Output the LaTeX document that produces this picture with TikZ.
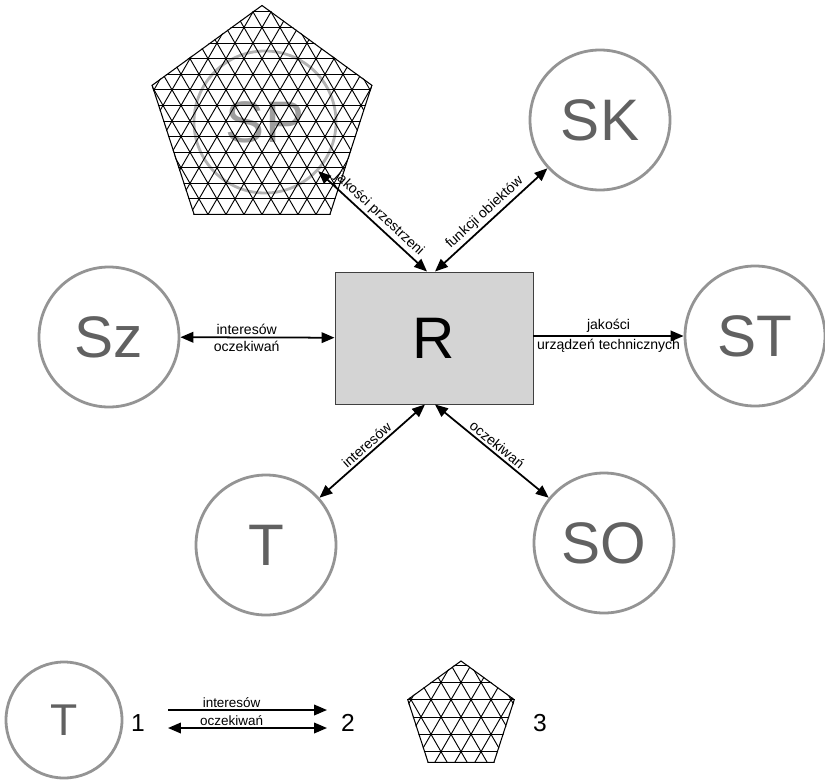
\documentclass[tikz,border=0pt]{standalone}
\usepackage{fontspec}
\setmainfont{Liberation Sans}
\usetikzlibrary{shapes.geometric, arrows.meta, calc}

\begin{document}
\begin{tikzpicture}[x=0.03cm, y=-0.03cm,
        circ/.style={circle, draw=black!42, line width=2.4pt, minimum size=4.2cm, inner sep=0pt, text=black!62, font=\fontsize{50}{50}\selectfont},
        lbl/.style={font=\fontsize{12}{14}\selectfont, inner sep=2pt},
        conn/.style={line width=1.5pt, >={Triangle[length=11pt, width=9pt]}},
        pentagon/.style={regular polygon, regular polygon sides=5, draw, line width=0.9pt, inner sep=0pt},
        dig/.style={font=\fontsize{21}{21}\selectfont}]
        \useasboundingbox (0,0) rectangle (825,780);

        \node[draw=black!75, fill=black!17, line width=0.8pt, minimum width=5.94cm, minimum height=3.96cm, inner sep=0pt, font=\fontsize{50}{50}\selectfont] (r) at (434,338) {R};
        \node[circ] (sz) at (109,337) {Sz};
        \node[circ] (st) at (755,336) {ST};
        \node[circ] (sk) at (600,120) {SK};
        \node[circ] (t) at (266,545) {T};
        \node[circ] (so) at (604,543) {SO};

        \node[pentagon, minimum size=6.93cm] (pent) at (262,121) {};
        \node[circ, draw=black!30, text=black!38, minimum size=4.26cm] (sp) at (265,122) {SP};

        \node[circ, minimum size=3.48cm, font=\fontsize{38}{38}\selectfont] (legt) at (64,720) {T};
        \node[dig] (one) at (138,723) {1};
        \node[dig] (two) at (348,723) {2};
        \node[pentagon, minimum size=3.36cm] (legp) at (461,717) {};
        \node[dig] (three) at (540,723) {3};

        % siatka w pieciokatach
        \foreach \pg/\ed in {pent/18, legp/20} {
            \begin{scope}
                \clip (\pg.corner 1) -- (\pg.corner 2) -- (\pg.corner 3) -- (\pg.corner 4) -- (\pg.corner 5) -- cycle;
                \foreach \k in {-11,...,11} {
                    \draw[line width=0.8pt] ($(\pg.center)+(-140,\k*\ed*0.866)$) -- ++(280,0);
                    \draw[line width=0.8pt] ($(\pg.center)+(\k*\ed,0)$) ++(-70,-121.24) -- ++(140,242.48);
                    \draw[line width=0.8pt] ($(\pg.center)+(\k*\ed,0)$) ++(-70,121.24) -- ++(140,-242.48);
                }
            \end{scope}
        }

        \draw[conn, <->] (sz) -- node[lbl, above, pos=0.43] {interesów} node[lbl, below, pos=0.43] {oczekiwań} (r);
        \draw[conn, ->] (r.east |- st) -- node[lbl, above] {jakości} node[lbl, below] {urządzeń technicznych} (st);
        \draw[conn, <->] (sp) -- node[lbl, above, sloped] {jakości przestrzeni} ($(r.north)+(-7,0)$);
        \draw[conn, <->] ($(r.north)+(1,0)$) -- node[lbl, above, sloped] {funkcji obiektów} (sk);
        \draw[conn, <->] (t) -- node[lbl, above, sloped] {interesów} ($(r.south)+(-9,0)$);
        \draw[conn, <->] ($(r.south)+(1,0)$) -- node[lbl, above, sloped] {oczekiwań} (so);

        \coordinate (la) at (168,710);
        \coordinate (lb) at (327,710);
        \coordinate (lc) at (168,728);
        \coordinate (ld) at (327,728);
        \draw[conn, ->] (la) -- node[lbl, above, pos=0.4, font=\fontsize{11.5}{13}\selectfont, inner sep=1pt] {interesów} (lb);
        \draw[conn, <->] (lc) -- node[lbl, above, pos=0.4, font=\fontsize{11.5}{13}\selectfont, inner sep=1pt] {oczekiwań} (ld);
    \end{tikzpicture}
\end{document}
